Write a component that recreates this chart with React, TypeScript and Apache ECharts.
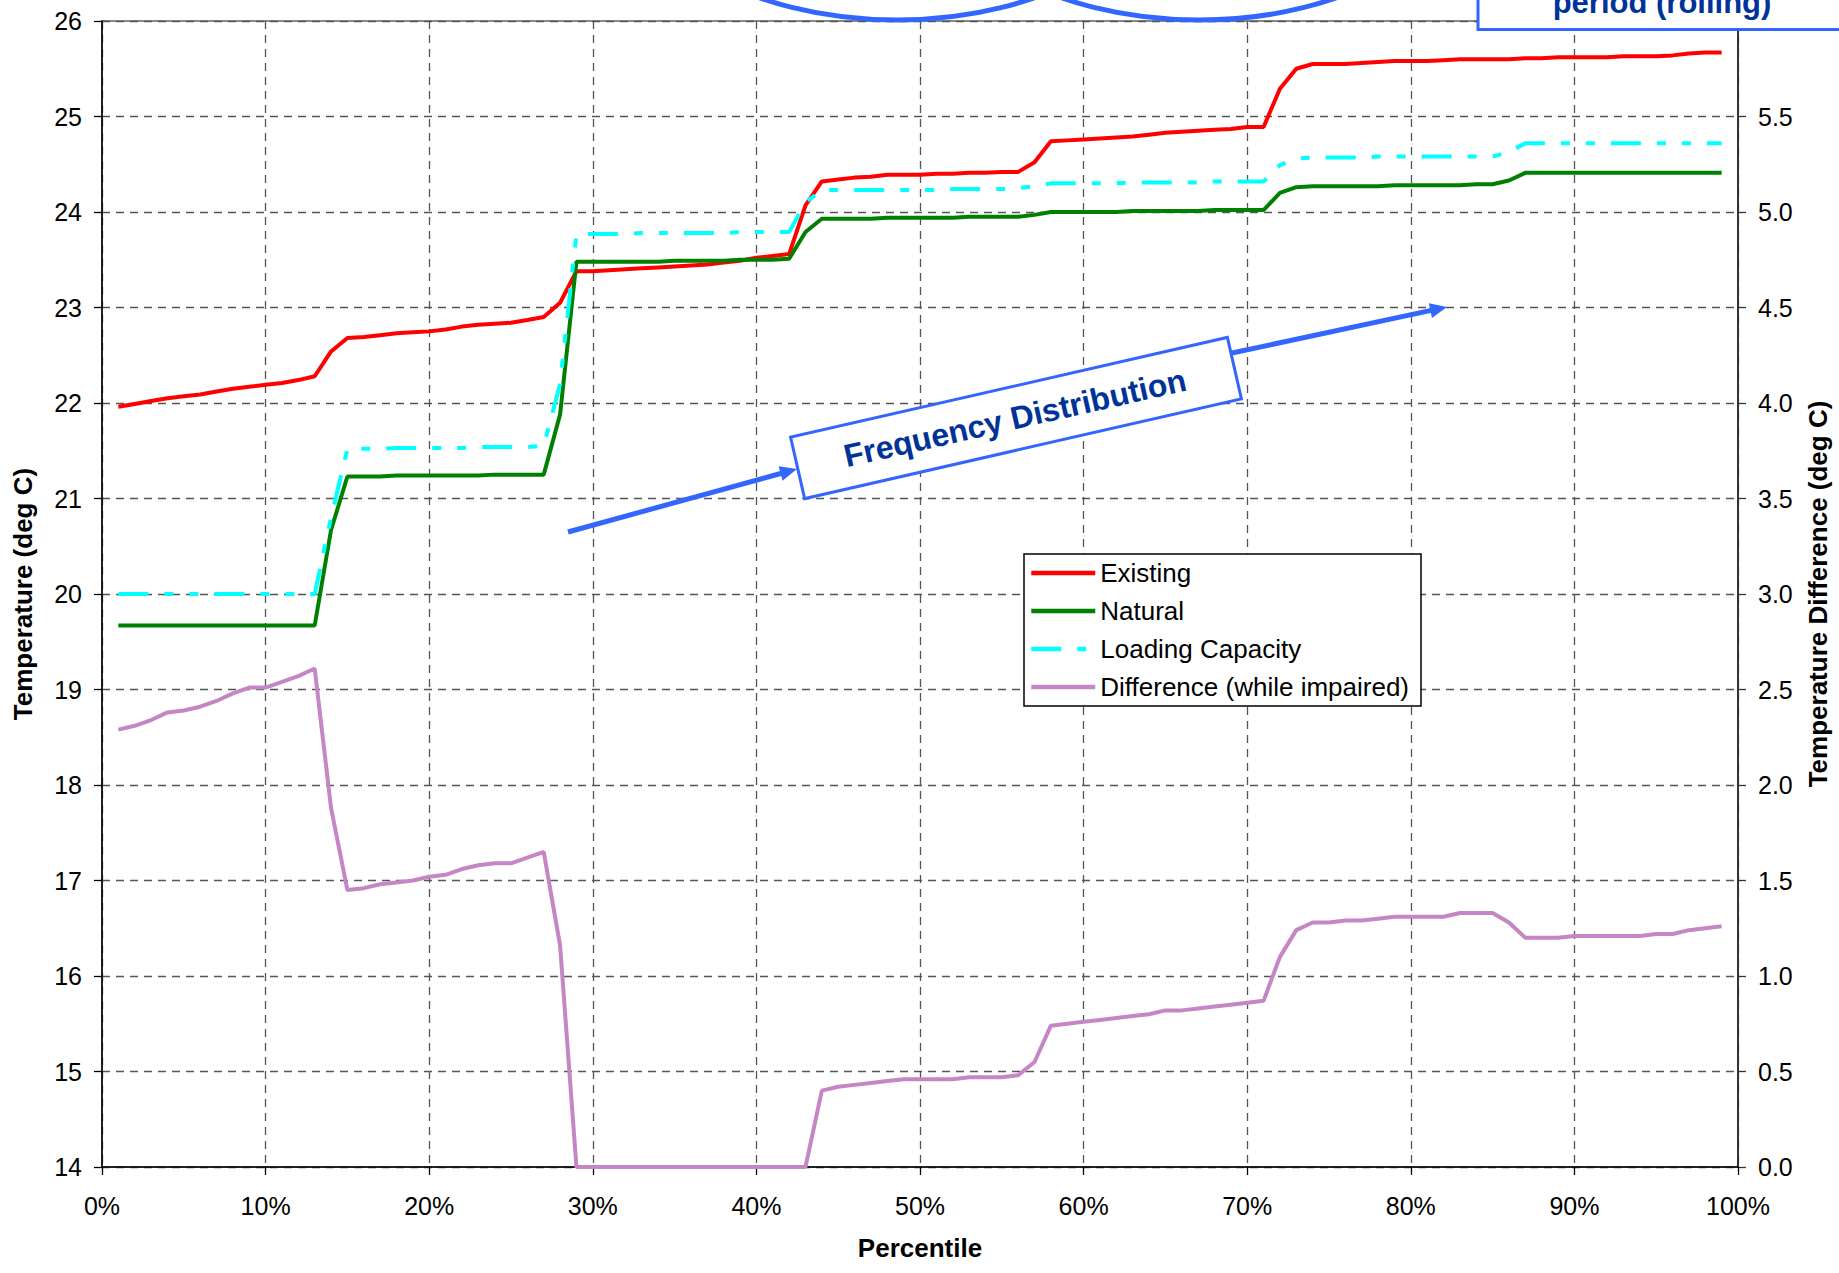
import React, { useEffect, useRef } from "react";
import * as echarts from "echarts";

// Percentile positions of the sampled points (x axis, in %)
const PERCENTILES = [
  1, 2, 3, 4, 5, 6, 7, 8, 9, 10,
  11, 12, 13, 14, 15, 16, 17, 18, 19, 20,
  21, 22, 23, 24, 25, 26, 27, 28, 29, 30,
  31, 32, 33, 34, 35, 36, 37, 38, 39, 40,
  41, 42, 43, 44, 45, 46, 47, 48, 49, 50,
  51, 52, 53, 54, 55, 56, 57, 58, 59, 60,
  61, 62, 63, 64, 65, 66, 67, 68, 69, 70,
  71, 72, 73, 74, 75, 76, 77, 78, 79, 80,
  81, 82, 83, 84, 85, 86, 87, 88, 89, 90,
  91, 92, 93, 94, 95, 96, 97, 98, 99,
];

// Temperature (deg C), left axis
const EXISTING = [
  21.96, 21.99, 22.02, 22.05, 22.07, 22.09, 22.12, 22.15, 22.17, 22.19,
  22.21, 22.24, 22.28, 22.54, 22.68, 22.69, 22.71, 22.73, 22.74, 22.75,
  22.77, 22.80, 22.82, 22.83, 22.84, 22.87, 22.90, 23.05, 23.38, 23.38,
  23.39, 23.40, 23.41, 23.42, 23.43, 23.44, 23.45, 23.47, 23.49, 23.52,
  23.54, 23.56, 24.07, 24.32, 24.34, 24.36, 24.37, 24.39, 24.39, 24.39,
  24.40, 24.40, 24.41, 24.41, 24.42, 24.42, 24.52, 24.74, 24.75, 24.76,
  24.77, 24.78, 24.79, 24.81, 24.83, 24.84, 24.85, 24.86, 24.87, 24.89,
  24.89, 25.29, 25.50, 25.55, 25.55, 25.55, 25.56, 25.57, 25.58, 25.58,
  25.58, 25.59, 25.60, 25.60, 25.60, 25.60, 25.61, 25.61, 25.62, 25.62,
  25.62, 25.62, 25.63, 25.63, 25.63, 25.64, 25.66, 25.67, 25.67,
];

const NATURAL = [
  19.67, 19.67, 19.67, 19.67, 19.67, 19.67, 19.67, 19.67, 19.67, 19.67,
  19.67, 19.67, 19.67, 20.67, 21.23, 21.23, 21.23, 21.24, 21.24, 21.24,
  21.24, 21.24, 21.24, 21.25, 21.25, 21.25, 21.25, 21.88, 23.48, 23.48,
  23.48, 23.48, 23.48, 23.48, 23.49, 23.49, 23.49, 23.49, 23.50, 23.50,
  23.50, 23.51, 23.79, 23.93, 23.93, 23.93, 23.93, 23.94, 23.94, 23.94,
  23.94, 23.94, 23.95, 23.95, 23.95, 23.95, 23.97, 24.00, 24.00, 24.00,
  24.00, 24.00, 24.01, 24.01, 24.01, 24.01, 24.01, 24.02, 24.02, 24.02,
  24.02, 24.20, 24.26, 24.27, 24.27, 24.27, 24.27, 24.27, 24.28, 24.28,
  24.28, 24.28, 24.28, 24.29, 24.29, 24.33, 24.41, 24.41, 24.41, 24.41,
  24.41, 24.41, 24.41, 24.41, 24.41, 24.41, 24.41, 24.41, 24.41,
];

const LOADING_CAPACITY = [
  20.00, 20.00, 20.00, 20.00, 20.00, 20.00, 20.00, 20.00, 20.00, 20.00,
  20.00, 20.00, 20.00, 20.80, 21.52, 21.52, 21.52, 21.53, 21.53, 21.53,
  21.53, 21.53, 21.54, 21.54, 21.54, 21.54, 21.55, 22.20, 23.77, 23.77,
  23.77, 23.77, 23.78, 23.78, 23.78, 23.78, 23.78, 23.78, 23.79, 23.79,
  23.79, 23.79, 24.10, 24.23, 24.23, 24.23, 24.23, 24.23, 24.23, 24.23,
  24.23, 24.24, 24.24, 24.24, 24.24, 24.25, 24.27, 24.30, 24.30, 24.30,
  24.30, 24.30, 24.31, 24.31, 24.31, 24.31, 24.31, 24.32, 24.32, 24.32,
  24.32, 24.49, 24.56, 24.57, 24.57, 24.57, 24.57, 24.58, 24.58, 24.58,
  24.58, 24.58, 24.58, 24.58, 24.58, 24.63, 24.72, 24.72, 24.72, 24.72,
  24.72, 24.72, 24.72, 24.72, 24.72, 24.72, 24.72, 24.72, 24.72,
];

// Temperature difference (deg C), right axis
const DIFFERENCE = [
  2.29, 2.31, 2.34, 2.38, 2.39, 2.41, 2.44, 2.48, 2.51, 2.51,
  2.54, 2.57, 2.61, 1.88, 1.45, 1.46, 1.48, 1.49, 1.50, 1.52,
  1.53, 1.56, 1.58, 1.59, 1.59, 1.62, 1.65, 1.16, 0, 0,
  0, 0, 0, 0, 0, 0, 0, 0, 0, 0,
  0, 0, 0, 0.40, 0.42, 0.43, 0.44, 0.45, 0.46, 0.46,
  0.46, 0.46, 0.47, 0.47, 0.47, 0.48, 0.55, 0.74, 0.75, 0.76,
  0.77, 0.78, 0.79, 0.80, 0.82, 0.82, 0.83, 0.84, 0.85, 0.86,
  0.87, 1.10, 1.24, 1.28, 1.28, 1.29, 1.29, 1.30, 1.31, 1.31,
  1.31, 1.31, 1.33, 1.33, 1.33, 1.28, 1.20, 1.20, 1.20, 1.21,
  1.21, 1.21, 1.21, 1.21, 1.22, 1.22, 1.24, 1.25, 1.26,
];

const SERIES_NAMES = ["Existing", "Natural", "Loading Capacity", "Difference (while impaired)"];

const FONT = "'Liberation Sans', Arial, sans-serif";
const BLUE = "#3366FF";
const NAVY = "#003399";

function pairs(values: number[]) {
  return PERCENTILES.map((p, i) => [p, values[i]]);
}

// Straight arrow: a thick shaft plus a triangular head at (x2, y2)
function arrow(x1: number, y1: number, x2: number, y2: number, head = 17, half = 7.5) {
  const dx = x2 - x1;
  const dy = y2 - y1;
  const len = Math.hypot(dx, dy);
  const ux = dx / len;
  const uy = dy / len;
  const nx = -uy;
  const ny = ux;
  const bx = x2 - ux * head;
  const by = y2 - uy * head;
  return [
    {
      type: "line",
      z: 100,
      shape: { x1, y1, x2: bx + ux * 2, y2: by + uy * 2 },
      style: { stroke: BLUE, lineWidth: 5 },
    },
    {
      type: "polygon",
      z: 100,
      shape: {
        points: [
          [x2, y2],
          [bx + nx * half, by + ny * half],
          [bx - nx * half, by - ny * half],
        ],
      },
      style: { fill: BLUE },
    },
  ];
}

const gridDash = { type: [8, 6], color: "#555", width: 1.3 };

const option = {
  animation: false,
  backgroundColor: "#fff",
  textStyle: { fontFamily: FONT },
  grid: {
    left: 102,
    right: 98,
    top: 21,
    bottom: 106,
    show: true,
    borderColor: "#888",
    borderWidth: 2,
  },
  legend: {
    orient: "vertical",
    left: 1024,
    top: 554,
    padding: [4, 12, 4, 5],
    itemGap: 8,
    itemWidth: 64,
    itemHeight: 14,
    backgroundColor: "#fff",
    borderColor: "#000",
    borderWidth: 1.5,
    borderRadius: 0,
    // line-only keys: hide the marker that sits in the middle of each key
    itemStyle: { opacity: 0 },
    lineStyle: { width: 4.5 },
    textStyle: { fontSize: 26, color: "#000", fontFamily: FONT, lineHeight: 30 },
    data: SERIES_NAMES,
  },
  xAxis: {
    type: "value",
    min: 0,
    max: 100,
    interval: 10,
    name: "Percentile",
    nameLocation: "middle",
    nameGap: 68,
    nameTextStyle: { fontSize: 26, fontWeight: "bold", color: "#000", fontFamily: FONT },
    axisLine: { lineStyle: { color: "#000", width: 1.5 } },
    axisTick: { show: true, length: 8, lineStyle: { color: "#000", width: 1.3 } },
    axisLabel: { fontSize: 25, color: "#000", margin: 26, formatter: (v: number) => `${v}%` },
    splitLine: { show: true, lineStyle: gridDash },
  },
  yAxis: [
    {
      type: "value",
      min: 14,
      max: 26,
      interval: 1,
      name: "Temperature (deg C)",
      nameLocation: "middle",
      nameGap: 66,
      nameTextStyle: { fontSize: 26, fontWeight: "bold", color: "#000", fontFamily: FONT },
      axisLine: { show: true, lineStyle: { color: "#000", width: 1.5 } },
      axisTick: { show: true, length: 8, lineStyle: { color: "#000", width: 1.3 } },
      axisLabel: { fontSize: 25, color: "#000", margin: 20 },
      splitLine: { show: true, lineStyle: gridDash },
    },
    {
      type: "value",
      position: "right",
      min: 0,
      max: 6,
      interval: 0.5,
      name: "Temperature Difference (deg C)",
      nameLocation: "middle",
      nameGap: 67,
      nameRotate: 90,
      nameTextStyle: { fontSize: 26, fontWeight: "bold", color: "#000", fontFamily: FONT },
      axisLine: { show: true, lineStyle: { color: "#333", width: 2 } },
      axisTick: { show: true, length: 8, lineStyle: { color: "#333", width: 1.3 } },
      axisLabel: {
        fontSize: 25,
        color: "#000",
        margin: 20,
        showMaxLabel: false,
        formatter: (v: number) => v.toFixed(1),
      },
      splitLine: { show: false },
    },
  ],
  series: [
    {
      name: SERIES_NAMES[0],
      type: "line",
      data: pairs(EXISTING),
      symbol: "none",
      color: "#FF0000",
      lineStyle: { color: "#FF0000", width: 4 },
    },
    {
      name: SERIES_NAMES[1],
      type: "line",
      data: pairs(NATURAL),
      symbol: "none",
      color: "#008000",
      lineStyle: { color: "#008000", width: 4 },
    },
    {
      name: SERIES_NAMES[2],
      type: "line",
      data: pairs(LOADING_CAPACITY),
      symbol: "none",
      color: "#00FFFF",
      lineStyle: { color: "#00FFFF", width: 4, type: [30, 16, 9, 16, 9, 16] },
    },
    {
      name: SERIES_NAMES[3],
      type: "line",
      yAxisIndex: 1,
      data: pairs(DIFFERENCE),
      symbol: "none",
      color: "#C586C5",
      lineStyle: { color: "#C586C5", width: 4 },
    },
  ],
  graphic: [
    // ovals hanging from the top edge
    {
      type: "ellipse",
      z: 100,
      shape: { cx: 897, cy: -140, rx: 270, ry: 160 },
      style: { fill: "none", stroke: BLUE, lineWidth: 5 },
    },
    {
      type: "ellipse",
      z: 100,
      shape: { cx: 1199, cy: -140, rx: 270, ry: 160 },
      style: { fill: "none", stroke: BLUE, lineWidth: 5 },
    },
    // caption box in the top-right corner
    {
      type: "rect",
      z: 100,
      shape: { x: 1478, y: -100, width: 380, height: 129.5 },
      style: { fill: "#fff", stroke: BLUE, lineWidth: 3 },
    },
    {
      type: "text",
      z: 101,
      x: 1662,
      y: 2,
      style: {
        text: "period (rolling)",
        fontSize: 31,
        fontWeight: "bold",
        fontFamily: FONT,
        fill: NAVY,
        align: "center",
        verticalAlign: "middle",
      },
    },
    // "Frequency Distribution" call-out with arrows
    ...arrow(568, 532, 797, 469),
    ...arrow(1232, 353, 1447, 307),
    {
      type: "rect",
      z: 100,
      x: 1016,
      y: 418,
      rotation: 0.225,
      shape: { x: -224, y: -31.5, width: 448, height: 63 },
      style: { fill: "#fff", stroke: BLUE, lineWidth: 3 },
    },
    {
      type: "text",
      z: 101,
      x: 1015,
      y: 418,
      rotation: 0.222,
      style: {
        text: "Frequency Distribution",
        fontSize: 32,
        fontWeight: "bold",
        fontFamily: FONT,
        fill: NAVY,
        align: "center",
        verticalAlign: "middle",
      },
    },
  ],
};

export default function App() {
  const ref = useRef<HTMLDivElement>(null);
  useEffect(() => {
    document.body.style.margin = "0";
    const chart = echarts.init(ref.current!, null, { renderer: "svg" });
    chart.setOption(option as any);
    return () => chart.dispose();
  }, []);
  return <div ref={ref} style={{ width: 1839, height: 1273, background: "#fff" }} />;
}
